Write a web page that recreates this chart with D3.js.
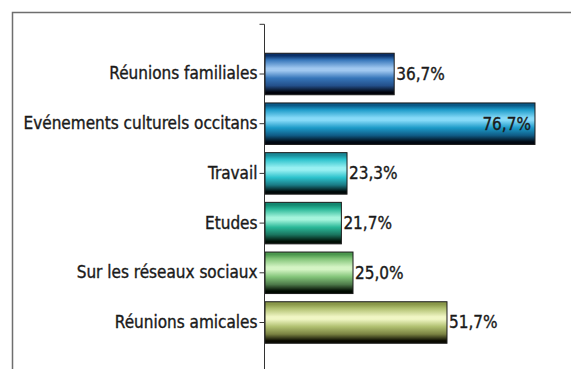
<!DOCTYPE html>
<html>
<head>
<meta charset="utf-8">
<script src="https://cdn.jsdelivr.net/npm/d3@7"></script>
<style>
  html, body { margin: 0; padding: 0; background: #ffffff; }
  svg { display: block; }
  text { font-family: "Liberation Sans Narrow", "DejaVu Sans Condensed", sans-serif; fill: #1a1a1a; stroke: #1a1a1a; stroke-width: 0.35px; }
</style>
</head>
<body>
<svg id="chart" width="571" height="369"></svg>
<script>
// Categories, top to bottom
const categories = [
  "Réunions familiales",
  "Evénements culturels occitans",
  "Travail",
  "Etudes",
  "Sur les réseaux sociaux",
  "Réunions amicales"
];
// Share of respondents (%)
const values = [36.7, 76.7, 23.3, 21.7, 25.0, 51.7];
// Bar tones: [dark edge, body, highlight, lower body, shadow]
const barTones = [
  ["#0a3068", "#3676ba", "#a0c8f0", "#24508a", "#00030c"],
  ["#0a5a88", "#1c9ac8", "#86daf8", "#105c86", "#000812"],
  ["#1a8a98", "#2cc2cc", "#98f0f2", "#1a7a84", "#000a0a"],
  ["#128870", "#2ab898", "#a4f4dc", "#1a745e", "#001006"],
  ["#4c984e", "#82c478", "#d4f4c4", "#4e7a4a", "#000a00"],
  ["#8a984a", "#b0c070", "#f0f6c4", "#7a8242", "#0a0a00"]
];

const svg = d3.select("#chart");
const defs = svg.append("defs");

// Outer frame
svg.append("rect")
  .attr("x", 12.5).attr("y", 12.5)
  .attr("width", 600).attr("height", 400)
  .attr("fill", "none")
  .attr("stroke", "#6e6e6e")
  .attr("stroke-width", 1.5);

const slots = [""].concat(categories);

const x = d3.scaleLinear().domain([0, 80]).range([265, 265 + 80 * 3.52]);
const y = d3.scaleBand()
  .domain(slots)
  .range([-0.55, 347.35])
  .paddingInner(0.165)
  .paddingOuter(0.0825);

// Vertical gradients for the bars
barTones.forEach((t, i) => {
  const g = defs.append("linearGradient")
    .attr("id", "grad" + i)
    .attr("x1", 0).attr("y1", 0).attr("x2", 0).attr("y2", 1);
  const stops = [
    [0, t[0]], [0.06, t[0]], [0.16, t[1]], [0.36, t[2]],
    [0.42, t[2]], [0.6, t[1]], [0.78, t[3]], [0.94, t[4]], [1, t[4]]
  ];
  stops.forEach(s => g.append("stop").attr("offset", s[0]).attr("stop-color", s[1]));
});

const data = categories.map((c, i) => ({ cat: c, value: values[i], i }));

// Bars
svg.append("g").selectAll("rect")
  .data(data)
  .join("rect")
  .attr("x", x(0))
  .attr("y", d => y(d.cat))
  .attr("width", d => x(d.value) - x(0))
  .attr("height", y.bandwidth())
  .attr("fill", d => `url(#grad${d.i})`)
  .attr("stroke", "#1a1a1a")
  .attr("stroke-width", 1);

// Category axis
const axis = d3.axisLeft(y).tickSize(5).tickSizeOuter(0).tickPadding(2);
const axisG = svg.append("g")
  .attr("transform", `translate(${x(0) - 0.5},0)`)
  .call(axis);
axisG.select(".domain").remove();
axisG.append("line")
  .attr("x1", 0).attr("x2", 0)
  .attr("y1", y("") + y.bandwidth() / 2)
  .attr("y2", 372)
  .attr("stroke", "#333");
axisG.selectAll(".tick line").attr("stroke", "#333");
axisG.selectAll(".tick text")
  .attr("font-size", 17)
  .attr("font-family", "'Liberation Sans Narrow', 'DejaVu Sans Condensed', sans-serif")
  .attr("fill", "#1a1a1a");

// Value labels
const fmt = v => v.toFixed(1).replace(".", ",") + "%";
svg.append("g").selectAll("text")
  .data(data)
  .join("text")
  .attr("x", d => d.value > 70 ? x(d.value) - 4 : x(d.value) + 2)
  .attr("y", d => y(d.cat) + y.bandwidth() / 2)
  .attr("dy", "0.35em")
  .attr("text-anchor", d => d.value > 70 ? "end" : "start")
  .attr("font-size", 17)
  .text(d => fmt(d.value));
</script>
</body>
</html>
